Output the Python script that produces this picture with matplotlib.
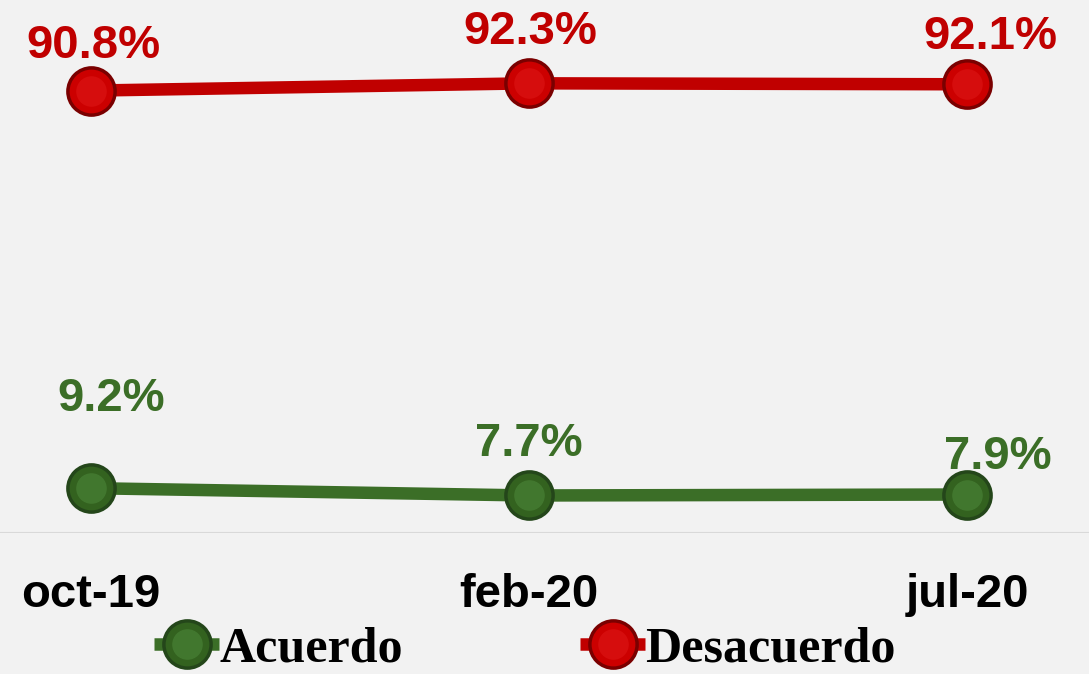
import matplotlib
matplotlib.use("Agg")
import matplotlib.pyplot as plt
from matplotlib.legend_handler import HandlerTuple

# data
periods = ["oct-19", "feb-20", "jul-20"]
acuerdo = [9.2, 7.7, 7.9]
desacuerdo = [90.8, 92.3, 92.1]

# label offsets in pixels (dx, dy) relative to each point
acuerdo_offsets = [(20, 89), (0, 51), (31, 38)]
desacuerdo_offsets = [(2, 45), (1, 51), (23, 47)]

bg = "#f2f2f2"
green, green_dark, green_hi = "#3b6e27", "#24461a", "#4e8a3c"
red, red_dark, red_hi = "#c00000", "#7a0000", "#e01818"

fig = plt.figure(figsize=(10.89, 6.74), dpi=100, facecolor=bg)
# y=0 sits at pixel 533 from top, top of axes is the figure top
ax = fig.add_axes([0, 1 - 533 / 674, 1, 533 / 674], facecolor=bg)

x = list(range(len(periods)))

def sphere_series(values, line_color, base, dark, hi):
    ln, = ax.plot(x, values, color=line_color, lw=9, solid_capstyle="butt",
                  marker="o", ms=34, mfc=base, mec=dark, mew=2.5, zorder=3)
    h1, = ax.plot(x, values, ls="none", marker="o", ms=22, mfc=hi, mec="none",
                  alpha=0.55, zorder=4)
    return ln, h1

g = sphere_series(acuerdo, green, "#33621f", green_dark, green_hi)
r = sphere_series(desacuerdo, red, "#cc0000", red_dark, red_hi)

for xi, v, (dx, dy) in zip(x, acuerdo, acuerdo_offsets):
    ax.annotate(f"{v:.1f}%", (xi, v), xytext=(dx, dy), textcoords="offset pixels",
                ha="center", va="center", fontsize=34, fontweight="bold",
                color=green, family="Liberation Sans")
for xi, v, (dx, dy) in zip(x, desacuerdo, desacuerdo_offsets):
    ax.annotate(f"{v:.1f}%", (xi, v), xytext=(dx, dy), textcoords="offset pixels",
                ha="center", va="center", fontsize=34, fontweight="bold",
                color=red, family="Liberation Sans")

ax.set_xlim(-91 / 438, (1089 - 91) / 438)
ax.set_ylim(0, 109.4)
ax.axhline(0, color="#d9d9d9", lw=1.5, zorder=1)
for s in ax.spines.values():
    s.set_visible(False)
ax.set_yticks([])
ax.set_xticks(x)
ax.set_xticklabels(periods, fontsize=34, fontweight="bold", family="Liberation Sans")
ax.tick_params(axis="x", length=0, pad=29)

leg = fig.legend([g, r], ["Acuerdo", "Desacuerdo"],
                 handler_map={tuple: HandlerTuple(ndivide=1, pad=0)},
                 loc="center", bbox_to_anchor=(525 / 1089, 1 - 649 / 674),
                 ncol=2, frameon=False, handlelength=1.3, handletextpad=0.0,
                 columnspacing=3.55, borderpad=0,
                 prop={"family": "Liberation Serif", "weight": "bold", "size": 36})

fig.savefig("out.png", dpi=100, facecolor=bg)
